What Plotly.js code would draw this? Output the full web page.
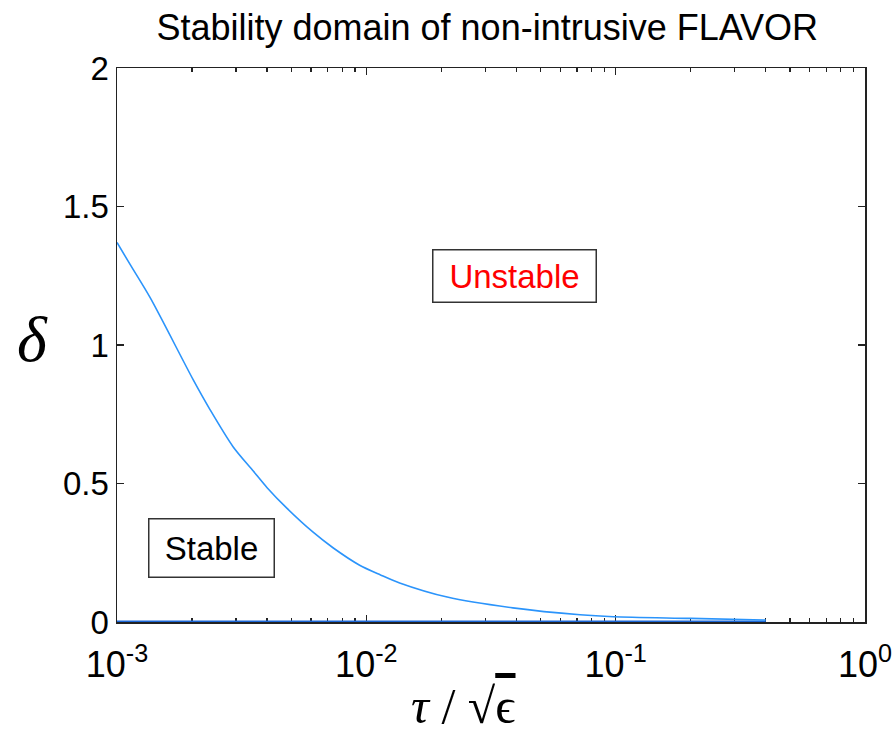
<!DOCTYPE html>
<html>
<head>
<meta charset="utf-8">
<script src="https://cdn.plot.ly/plotly-3.0.1.min.js"></script>
<style>html,body{margin:0;padding:0;background:#fff;}#chart{width:892px;height:739px;}</style>
</head>
<body>
<div id="chart"></div>
<script>
// Stability boundary (tau/sqrt(eps) vs delta)
const tauRatio = [0.001, 0.00113, 0.00136, 0.00202, 0.00236, 0.00292, 0.00352, 0.004, 0.00481, 0.0061, 0.00735, 0.0094, 0.0114, 0.0136, 0.0211, 0.0387, 0.072, 0.098, 0.2, 0.4];
const delta    = [1.37, 1.29, 1.17, 0.875, 0.767, 0.633, 0.545, 0.485, 0.41, 0.325, 0.268, 0.205, 0.17, 0.141, 0.090, 0.051, 0.026, 0.019, 0.013, 0.007];
// lower edge of the stable region
const baseX = [0.001, 0.4];
const baseY = [0, 0];

const xTickVals = [0.001, 0.01, 0.1, 1];
const xTickText = ['10<sup>-3</sup>', '10<sup>-2</sup>', '10<sup>-1</sup>', '10<sup>0</sup>'];
const yTickVals = [0, 0.5, 1, 1.5, 2];
const yTickText = ['0', '0.5', '1', '1.5', '2'];

const titleText = "Stability domain of non-intrusive FLAVOR";
const labelUnstable = "Unstable";
const labelStable = "Stable";
const yTitle = "δ";
const xTitle = "<i>τ</i> / √<span style='text-decoration:overline'>ϵ</span>";

const traces = [
  {x: baseX, y: baseY, mode: 'lines', line: {color: '#1a66d6', width: 3}, cliponaxis: false, hoverinfo: 'skip'},
  {x: tauRatio, y: delta, mode: 'lines', line: {color: '#2b94fb', width: 1.6, shape: 'spline', smoothing: 0.8}, cliponaxis: false}
];

const axisCommon = {
  showline: true, linecolor: '#222', linewidth: 1.5, mirror: 'ticks',
  ticks: 'inside', ticklen: 7, tickwidth: 1.3, tickcolor: '#222',
  showgrid: false, zeroline: false, ticklabeloverflow: 'allow',
  tickfont: {family: 'Liberation Sans, Arial, sans-serif', size: 33, color: '#000'}
};

const layout = {
  width: 892, height: 739,
  margin: {l: 117, r: 27, t: 68, b: 117},
  paper_bgcolor: '#fff', plot_bgcolor: '#fff',
  showlegend: false,
  title: {text: titleText, font: {family: 'Liberation Sans, Arial, sans-serif', size: 36, color: '#000'},
          xref: 'paper', x: 0.495, xanchor: 'center', yref: 'container', y: 0.963, yanchor: 'middle'},
  xaxis: Object.assign({}, axisCommon, {
    type: 'log', range: [-3, 0], tickmode: 'array', tickvals: xTickVals, ticktext: xTickText,
    layer: 'below traces', ticklabelstandoff: 10,
    tickfont: {family: 'Liberation Sans, Arial, sans-serif', size: 36, color: '#000'},
    minor: {ticks: 'inside', ticklen: 4, tickwidth: 1.3, tickcolor: '#222', dtick: 'D1', showgrid: false}
  }),
  yaxis: Object.assign({}, axisCommon, {range: [0, 2], tickmode: 'array', tickvals: yTickVals, ticktext: yTickText}),
  annotations: [
    {xref: 'x', yref: 'y', x: -1.404, y: 1.25, text: labelUnstable, showarrow: false,
     font: {family: 'Liberation Sans, Arial, sans-serif', size: 33, color: '#ff0000'},
     bordercolor: '#333', borderwidth: 1.5, borderpad: 0, bgcolor: '#fff', width: 162, height: 51},
    {xref: 'x', yref: 'y', x: -2.621, y: 0.266, text: labelStable, showarrow: false,
     font: {family: 'Liberation Sans, Arial, sans-serif', size: 33, color: '#000'},
     bordercolor: '#333', borderwidth: 1.5, borderpad: 0, bgcolor: '#fff', width: 124, height: 57},
    {xref: 'paper', yref: 'paper', x: -0.137, y: 0.51, text: '<i>' + yTitle + '</i>', showarrow: false,
     font: {family: 'Liberation Serif, Times New Roman, serif', size: 64, color: '#000'}},
    {xref: 'paper', yref: 'paper', x: 0.4626, y: -0.205, text: xTitle, showarrow: false,
     font: {family: 'Liberation Serif, Times New Roman, serif', size: 50, color: '#000'}}
  ]
};

Plotly.newPlot('chart', traces, layout, {displayModeBar: false, staticPlot: true});
</script>
</body>
</html>
